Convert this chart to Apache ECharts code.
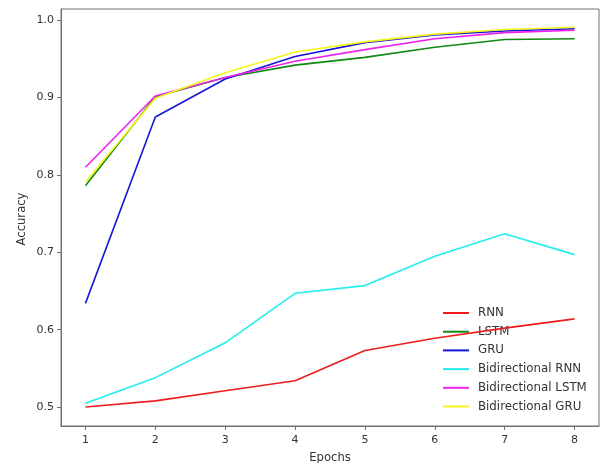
<!DOCTYPE html>
<html>
<head>
<meta charset="utf-8">
<script src="https://cdn.jsdelivr.net/npm/echarts@6/dist/echarts.min.js"></script>
<style>
  html, body { margin: 0; padding: 0; background: #fff; }
  #chart { width: 600px; height: 463px; }
</style>
</head>
<body>
<div id="chart"></div>
<script>
// Training accuracy per epoch for each recurrent model
const epochs = [1, 2, 3, 4, 5, 6, 7, 8];
const rnn    = [0.500, 0.508, 0.521, 0.534, 0.573, 0.589, 0.602, 0.614];
const lstm   = [0.786, 0.901, 0.926, 0.942, 0.952, 0.965, 0.975, 0.976];
const gru    = [0.634, 0.875, 0.924, 0.953, 0.971, 0.981, 0.986, 0.989];
const biRnn  = [0.505, 0.538, 0.583, 0.647, 0.657, 0.695, 0.724, 0.697];
const biLstm = [0.810, 0.902, 0.926, 0.947, 0.962, 0.976, 0.984, 0.987];
const biGru  = [0.791, 0.899, 0.932, 0.959, 0.972, 0.982, 0.988, 0.991];
const yTicks = [0.5, 0.6, 0.7, 0.8, 0.9, 1.0];

const seriesDefs = [
  { name: 'RNN', data: rnn, color: '#ee1c1c' },
  { name: 'LSTM', data: lstm, color: '#108a10' },
  { name: 'GRU', data: gru, color: '#1515d8' },
  { name: 'Bidirectional RNN', data: biRnn, color: '#22eeee' },
  { name: 'Bidirectional LSTM', data: biLstm, color: '#ee22ee' },
  { name: 'Bidirectional GRU', data: biGru, color: '#f5f51a' }
];

const font = 'DejaVu Sans';
const textColor = '#333';
const axisColor = '#707070';

const chart = echarts.init(document.getElementById('chart'), null, { renderer: 'canvas' });
chart.setOption({
  animation: false,
  backgroundColor: '#fff',
  grid: {
    left: 61, top: 9, right: 1, bottom: 37,
    show: true, borderColor: axisColor, borderWidth: 1, backgroundColor: 'transparent'
  },
  xAxis: {
    type: 'value',
    min: 0.65, max: 8.35,
    axisLine: { show: true, lineStyle: { color: axisColor, width: 1 } },
    axisTick: { show: true, inside: false, length: 4, customValues: epochs, lineStyle: { color: axisColor } },
    axisLabel: { customValues: epochs, margin: 9, color: textColor, fontFamily: font, fontSize: 11 },
    splitLine: { show: false }
  },
  yAxis: {
    type: 'value',
    min: 0.4755, max: 1.0145,
    axisLine: { show: true, lineStyle: { color: axisColor, width: 1 } },
    axisTick: { show: true, inside: false, length: 4, customValues: yTicks, lineStyle: { color: axisColor } },
    axisLabel: {
      customValues: yTicks, margin: 7, color: textColor, fontFamily: font, fontSize: 11,
      formatter: v => v.toFixed(1)
    },
    splitLine: { show: false }
  },
  legend: {
    orient: 'vertical',
    left: 443, top: 306,
    padding: 0,
    itemWidth: 26, itemHeight: 2, itemGap: 4.7,
    icon: 'rect',
    textStyle: { color: textColor, fontFamily: font, fontSize: 11.8, lineHeight: 14, padding: [0, 0, 0, 4] },
    data: seriesDefs.map(s => s.name)
  },
  graphic: [
    {
      type: 'text',
      x: 330, y: 458,
      style: { text: 'Epochs', fill: textColor, font: '11.6px "DejaVu Sans"', align: 'center', verticalAlign: 'middle' }
    },
    {
      type: 'text',
      x: 22, y: 219, rotation: Math.PI / 2,
      style: { text: 'Accuracy', fill: textColor, font: '11.6px "DejaVu Sans"', align: 'center', verticalAlign: 'middle' }
    }
  ],
  series: seriesDefs.map(s => ({
    name: s.name,
    type: 'line',
    data: epochs.map((e, i) => [e, s.data[i]]),
    showSymbol: false,
    symbol: 'none',
    z: 5,
    lineStyle: { color: s.color, width: 1.6 },
    itemStyle: { color: s.color }
  }))
});
</script>
</body>
</html>
